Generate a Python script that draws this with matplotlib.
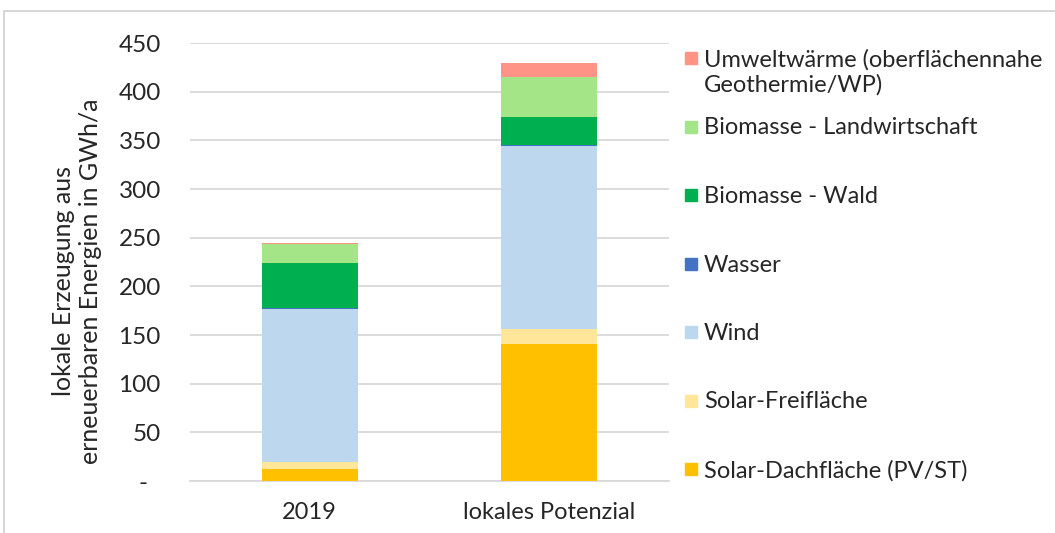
import matplotlib

matplotlib.use("agg")
import matplotlib.pyplot as plt
from matplotlib.patches import Rectangle
import numpy as np

plt.rcParams["font.family"] = ["Lato", "DejaVu Sans"]

# data (GWh/a)
categories = ["2019", "lokales Potenzial"]
sources = [
    "Solar-Dachfläche (PV/ST)",
    "Solar-Freifläche",
    "Wind",
    "Wasser",
    "Biomasse - Wald",
    "Biomasse - Landwirtschaft",
    "Umweltwärme (oberflächennahe\nGeothermie/WP)",
]
solar_dach = [12, 141]
solar_frei = [8, 15]
wind = [157, 188]
wasser = [0.5, 1.5]
wald = [46, 28]
landwirtschaft = [19.5, 42]
umwelt = [1.5, 14]
yticks = [0, 50, 100, 150, 200, 250, 300, 350, 400, 450]
ytick_labels = ["-  "] + [str(v) for v in yticks[1:]]

colors = ["#FFC000", "#FFE699", "#BDD7EE", "#4472C4", "#00B050", "#A3E587", "#FF9385"]
series = [solar_dach, solar_frei, wind, wasser, wald, landwirtschaft, umwelt]

W, H = 1055, 533
TXT = "#262626"
fig = plt.figure(figsize=(W / 100, H / 100), dpi=100)

# outer frame (only top/left edges visible in the reference)
fig.add_artist(
    Rectangle((4 / W, -0.1), 1.2, (H - 11) / H + 0.1, transform=fig.transFigure,
              fill=False, edgecolor="#D0D0D0", linewidth=1.2)
)

ax = fig.add_axes([190 / W, 52 / H, (669 - 190) / W, (481 - 43) / H])
x = np.arange(len(categories))
bottom = np.zeros(len(categories))
for vals, col, name in zip(series, colors, sources):
    ax.bar(x, vals, bottom=bottom, width=0.4, color=col, label=name, zorder=3)
    bottom += np.array(vals)

ax.set_xlim(-0.5, 1.5)
ax.set_ylim(0, 450)
ax.set_yticks(yticks)
ax.set_yticklabels(ytick_labels)
ax.set_xticks(x)
ax.set_xticklabels(categories)
ax.tick_params(axis="y", length=0, pad=21, labelsize=17.5, colors=TXT)
ax.tick_params(axis="x", length=0, pad=15, labelsize=17, colors=TXT)
ax.grid(axis="y", color="#D9D9D9", linewidth=1.3, zorder=0)
for side in ["top", "right", "left"]:
    ax.spines[side].set_visible(False)
ax.spines["bottom"].set_color("#D9D9D9")
ax.spines["bottom"].set_linewidth(1.3)

fig.text(77 / W, 1 - 281 / H, "lokale Erzeugung aus\nerneuerbaren Energien in GWh/a",
         rotation=90, ha="center", va="center", fontsize=18, color=TXT,
         linespacing=1.25, multialignment="center")

# legend, drawn top to bottom in reverse stacking order
leg_top = 58
leg_step = 68.5
for i, (name, col) in enumerate(zip(sources[::-1], colors[::-1])):
    yc = leg_top + i * leg_step
    fig.add_artist(Rectangle((685 / W, 1 - (yc + 6) / H), 12 / W, 12 / H,
                             transform=fig.transFigure, color=col))
    fig.text(704 / W, 1 - (yc - 9) / H, name, fontsize=17, color=TXT,
             va="top", ha="left", linespacing=1.2)

fig.savefig("out.png", dpi=100)
